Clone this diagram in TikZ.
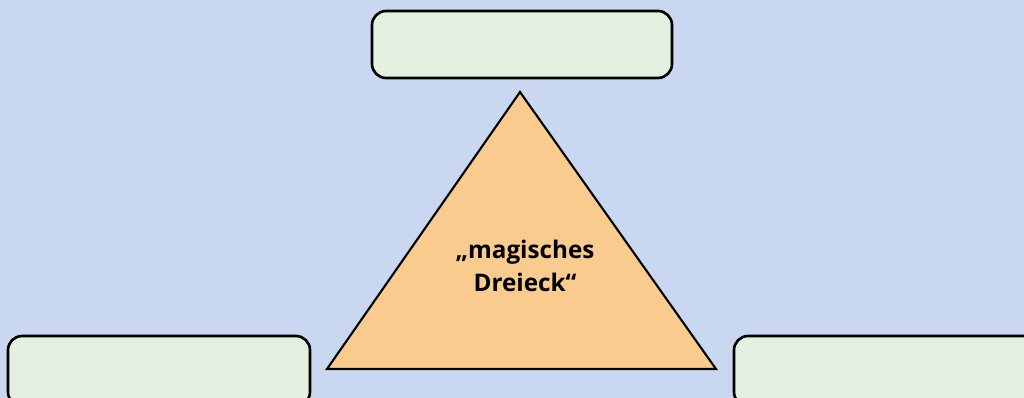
\documentclass[tikz,border=0pt]{standalone}
\usepackage{fontspec}
\setmainfont{Open Sans}
\usepackage{tikz}
\usetikzlibrary{positioning,calc}
\definecolor{bgblue}{HTML}{C9D7F0}
\definecolor{boxgreen}{HTML}{E4F0DF}
\definecolor{triorange}{HTML}{F9CB8F}
\definecolor{ink}{HTML}{000000}

\begin{document}
\begin{tikzpicture}[x=0.02cm,y=-0.02cm,
  field/.style={draw=ink,fill=boxgreen,line width=1.5pt,rounded corners=8pt},
  dreieck/.style={draw=ink,fill=triorange,line width=1.2pt,line join=miter},
  label/.style={align=center,font=\fontsize{13.8}{18.5}\selectfont\bfseries,text=ink}
]
\fill[bgblue] (0,0) rectangle (1024,398);
\useasboundingbox (0,0) rectangle (1024,398);
\clip (0,0) rectangle (1024,398);
% three empty fields
\node[field,minimum width=300*0.02cm,minimum height=67*0.02cm] (oben) at (522,44.5) {};
\node[field,minimum width=302*0.02cm,minimum height=70*0.02cm] (links) at (159,371) {};
\node[field,minimum width=306*0.02cm,minimum height=70*0.02cm] (rechts) at (887,371) {};
% triangle
\coordinate (spitze) at (520,92);
\coordinate (linksunten) at (327,369);
\coordinate (rechtsunten) at (716,369);
\draw[dreieck] (spitze) -- (rechtsunten) -- (linksunten) -- cycle;
\node[label] (mitte) at (525,266) {„magisches\\Dreieck“};
\end{tikzpicture}
\end{document}
